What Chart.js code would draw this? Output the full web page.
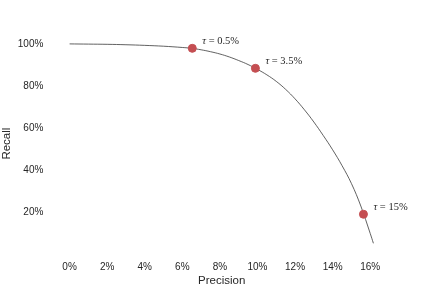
<!DOCTYPE html>
<html>
<head>
<meta charset="utf-8">
<script src="https://cdn.jsdelivr.net/npm/chart.js@4/dist/chart.umd.min.js"></script>
<style>
  html, body { margin: 0; padding: 0; background: #fff; }
  #wrap { width: 432px; height: 288px; }
</style>
</head>
<body>
<div id="wrap"><canvas id="prChart"></canvas></div>
<script>
// courbe précision / rappel (en %)
const curvePrecision = [0, 1, 2, 3, 4, 5, 6, 6.5, 7, 7.5, 8, 8.5, 9, 9.5, 10, 10.5, 11, 11.5, 12, 12.5, 13, 13.5, 14, 14.5, 15, 15.5, 16, 16.17];
const curveRecall = [100, 99.9, 99.8, 99.6, 99.3, 98.9, 98.3, 97.9, 97.2, 96.3, 95.2, 93.8, 92.1, 90.2, 87.9, 85.3, 82.2, 78.4, 73.9, 68.7, 62.9, 56.5, 49.7, 42.2, 33.7, 23.0, 10.0, 5.3];

// seuils marqués
const tauLabels = ["0.5%", "3.5%", "15%"];
const tauPrecision = [6.53, 9.89, 15.64];
const tauRecall = [97.9, 88.4, 19.1];

const xTicks = [0, 2, 4, 6, 8, 10, 12, 14, 16];
const yTicks = [20, 40, 60, 80, 100];

const textColor = '#262626';
const sansFont = "'Liberation Sans', Arial, sans-serif";

const curve = curvePrecision.map((x, i) => ({ x: x, y: curveRecall[i] }));
const taus = tauPrecision.map((x, i) => ({ x: x, y: tauRecall[i] }));

// étiquettes tau à côté des points
const tauLabelPlugin = {
  id: 'tauLabels',
  afterDatasetsDraw(chart) {
    const ctx = chart.ctx;
    const xs = chart.scales.x, ys = chart.scales.y;
    ctx.save();
    ctx.fillStyle = textColor;
    ctx.textBaseline = 'middle';
    ctx.textAlign = 'left';
    taus.forEach((p, i) => {
      let px = xs.getPixelForValue(p.x) + 10;
      const py = ys.getPixelForValue(p.y) - 7;
      ctx.font = "italic 10.5px 'Liberation Serif', 'DejaVu Serif', serif";
      ctx.fillText('τ', px, py);
      px += ctx.measureText('τ').width;
      ctx.font = "10.5px 'Liberation Serif', 'DejaVu Serif', serif";
      ctx.fillText(' = ' + tauLabels[i], px, py);
    });
    ctx.restore();
  }
};

new Chart(document.getElementById('prChart'), {
  type: 'scatter',
  data: {
    datasets: [
      {
        data: taus,
        backgroundColor: '#c44e52',
        borderColor: '#c44e52',
        pointRadius: 4,
        pointHoverRadius: 4,
        order: 0
      },
      {
        data: curve,
        showLine: true,
        borderColor: '#3a3a3a',
        borderWidth: 0.8,
        pointRadius: 0,
        tension: 0.4,
        order: 1
      }
    ]
  },
  options: {
    responsive: true,
    maintainAspectRatio: false,
    animation: false,
    layout: { padding: { top: 34, right: 43, bottom: 0, left: 0 } },
    plugins: {
      legend: { display: false },
      tooltip: { enabled: false }
    },
    scales: {
      x: {
        type: 'linear',
        min: -0.81,
        max: 17.0,
        grid: { display: false, drawTicks: false },
        border: { display: false },
        afterBuildTicks: (axis) => { axis.ticks = xTicks.map(v => ({ value: v })); },
        ticks: {
          padding: 8,
          color: textColor,
          font: { family: sansFont, size: 10 },
          callback: (v) => v + '%'
        },
        title: {
          display: true,
          text: 'Precision',
          color: textColor,
          font: { family: sansFont, size: 11.5 },
          padding: { top: -7, bottom: 0 }
        }
      },
      y: {
        type: 'linear',
        min: 0.6,
        max: 104.7,
        grid: { display: false, drawTicks: false },
        border: { display: false },
        afterBuildTicks: (axis) => { axis.ticks = yTicks.map(v => ({ value: v })); },
        ticks: {
          padding: 11,
          color: textColor,
          font: { family: sansFont, size: 10 },
          callback: (v) => v + '%'
        },
        title: {
          display: true,
          text: 'Recall',
          color: textColor,
          font: { family: sansFont, size: 11.5 },
          padding: { top: 0, bottom: -7 }
        }
      }
    }
  },
  plugins: [tauLabelPlugin]
});
</script>
</body>
</html>
